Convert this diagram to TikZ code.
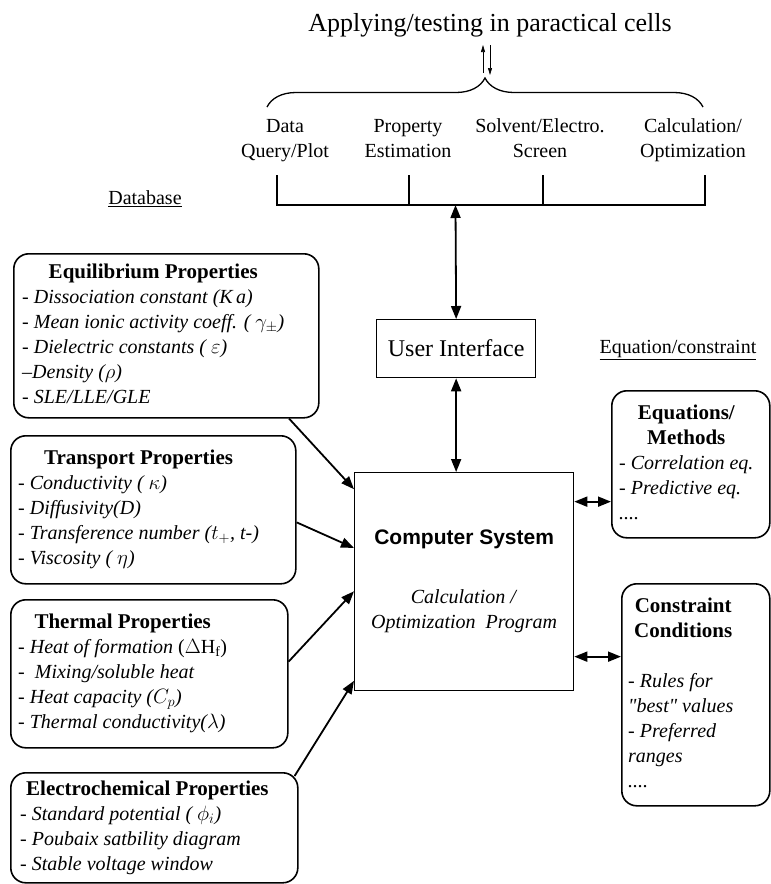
\documentclass[tikz,border=0pt]{standalone}
\usepackage{fontspec}
\setmainfont{Liberation Serif}
\newfontfamily\arialfont{Liberation Sans}
\usetikzlibrary{arrows.meta, positioning, decorations.pathreplacing}

\newcommand{\propfont}{\fontsize{20}{25}\selectfont}
\newcommand{\prophead}[1]{\multicolumn{1}{c}{\normalfont\fontsize{21}{25}\selectfont\bfseries #1}}

\begin{document}
\begin{tikzpicture}[
        x=1pt, y=-1pt,
        >={Triangle[length=13pt,width=10pt]},
        every node/.style={font=\propfont, inner sep=0pt},
        propbox/.style={draw, line width=1.6pt, rounded corners=15pt, anchor=north west},
        proptext/.style={anchor=west, font=\propfont\itshape},
        plainbox/.style={draw, line width=1.3pt, anchor=north west},
        link/.style={->, line width=1.8pt},
        dlink/.style={<->, line width=1.8pt},
        smallarrow/.style={->, >={Triangle[length=7pt,width=4pt]}, line width=0.7pt},
        bus/.style={line width=1.3pt}
    ]
        \useasboundingbox (0,0) rectangle (771,884);

        % Top: cells and functions
        \node (apply) at (490,25) {\fontsize{26}{30}\selectfont Applying/testing in paractical cells};
        \coordinate (upfoot) at (483,73);
        \coordinate (uphead) at (483,45);
        \coordinate (downfoot) at (490,45);
        \coordinate (downhead) at (490,75);
        \draw [smallarrow] (upfoot) -- (uphead);
        \draw [smallarrow] (downfoot) -- (downhead);

        \coordinate (braceL) at (267,107);
        \coordinate (braceR) at (703,107);
        \draw [line width=1.3pt, decorate, decoration={brace, amplitude=29pt}] (braceL) -- (braceR);

        \node [align=center] (query) at (285,139.5) {Data\strut\\Query/Plot\strut};
        \node [align=center] (estim) at (408,139.5) {Property\strut\\Estimation\strut};
        \node [align=center] (screen) at (540,139.5) {Solvent/Electro.\strut\\Screen\strut};
        \node [align=center] (optim) at (693,139.5) {Calculation/\strut\\Optimization\strut};

        \coordinate (qtick) at (277,175);
        \coordinate (etick) at (409,175);
        \coordinate (stick) at (543,175);
        \coordinate (otick) at (705,175);
        \coordinate (bus) at (455.5,205);
        \draw [bus] (qtick) |- (bus) -| (otick);
        \draw [bus] (etick) -- (etick |- bus);
        \draw [bus] (stick) -- (stick |- bus);

        \node (database) at (145,199) {\underline{Database}};
        \node (eqlabel) at (678,350) {\underline{Equation/constraint}};

        % Centre
        \node [plainbox, minimum width=159pt, minimum height=58pt, font=\fontsize{24}{28}\selectfont] (ui) at (376,319) {User Interface};
        \node [plainbox, minimum width=219pt, minimum height=218pt, align=center] (cs) at (354,472)
            {{\arialfont\bfseries\fontsize{21}{25}\selectfont Computer System}\\[34pt]
             \textit{Calculation /}\\ \textit{Optimization\ \ Program}};

        \draw [dlink] (bus) -- (ui.north);
        \draw [dlink] (ui.south) -- (ui.south |- cs.north);

        % Property boxes
        \node [propbox, minimum width=305pt, minimum height=164pt] (eqbox) at (13,253) {};
        \node [proptext] (eqtext) at ([xshift=9pt]eqbox.west) {\begin{tabular}{@{}l@{}}
            \prophead{Equilibrium Properties}\\
            - Dissociation constant (K\,a)\\
            - Mean ionic activity coeff. ( $\gamma_{\pm}$)\\
            - Dielectric constants ( $\varepsilon$)\\
            --Density ($\rho$)\\
            - SLE/LLE/GLE
        \end{tabular}};

        \node [propbox, minimum width=285pt, minimum height=148pt] (trbox) at (10,435) {};
        \node [proptext] (trtext) at ([xshift=8pt]trbox.west) {\begin{tabular}{@{}l@{}}
            \prophead{Transport Properties}\\
            - Conductivity ( $\kappa$)\\
            - Diffusivity(D)\\
            - Transference number ($t_{+}$, t-)\\
            - Viscosity ( $\eta$)
        \end{tabular}};

        \node [propbox, minimum width=277pt, minimum height=148pt] (thbox) at (10,599) {};
        \node [proptext] (thtext) at ([xshift=8pt]thbox.west) {\begin{tabular}{@{}l@{}}
            \prophead{Thermal Properties}\\
            - Heat of formation \textup{($\Delta$H$_{\mathrm{f}}$)}\\
            -\ \ Mixing/soluble heat\\
            - Heat capacity ($C_{p}$)\\
            - Thermal conductivity($\lambda$)
        \end{tabular}};

        \node [propbox, minimum width=287pt, minimum height=110pt] (elbox) at (10,772) {};
        \node [proptext] (eltext) at ([xshift=10pt]elbox.west) {\begin{tabular}{@{}l@{}}
            \prophead{Electrochemical Properties}\\
            - Standard potential ( $\phi_{i}$)\\
            - Poubaix satbility diagram\\
            - Stable voltage window
        \end{tabular}};

        % Equation / constraint boxes
        \node [propbox, minimum width=158pt, minimum height=147pt] (methbox) at (611,390) {};
        \node [proptext] (methtext) at ([xshift=8pt]methbox.west) {\begin{tabular}{@{}l@{}}
            \prophead{Equations/}\\
            \prophead{Methods}\\
            - Correlation eq.\\
            - Predictive eq.\\
            ....
        \end{tabular}};

        \node [propbox, minimum width=148pt, minimum height=222pt] (consbox) at (621,583) {};
        \node [proptext] (constext) at ([xshift=7pt]consbox.west) {\begin{tabular}{@{}l@{}}
            \prophead{Constraint}\\
            \prophead{Conditions}\\
            \\
            - Rules for\\
            \textquotedbl best\textquotedbl\ values\\
            - Preferred\\
            ranges\\
            ....
        \end{tabular}};

        % Connections
        \coordinate (elcorner) at ([xshift=-4pt,yshift=-4pt]elbox.north east);
        \draw [link] (eqbox.-34) -- (cs.140);
        \draw [link] (trbox.-5) -- (cs.163);
        \draw [link] (thbox.5) -- (cs.-175);
        \draw [link] (elcorner) -- (cs.-138);

        \coordinate (csmeth) at ([yshift=80pt]cs.east);
        \coordinate (cscons) at ([yshift=-75pt]cs.east);
        \draw [dlink] (csmeth) -- (csmeth -| methbox.west);
        \draw [dlink] (cscons) -- (cscons -| consbox.west);
\end{tikzpicture}
\end{document}
